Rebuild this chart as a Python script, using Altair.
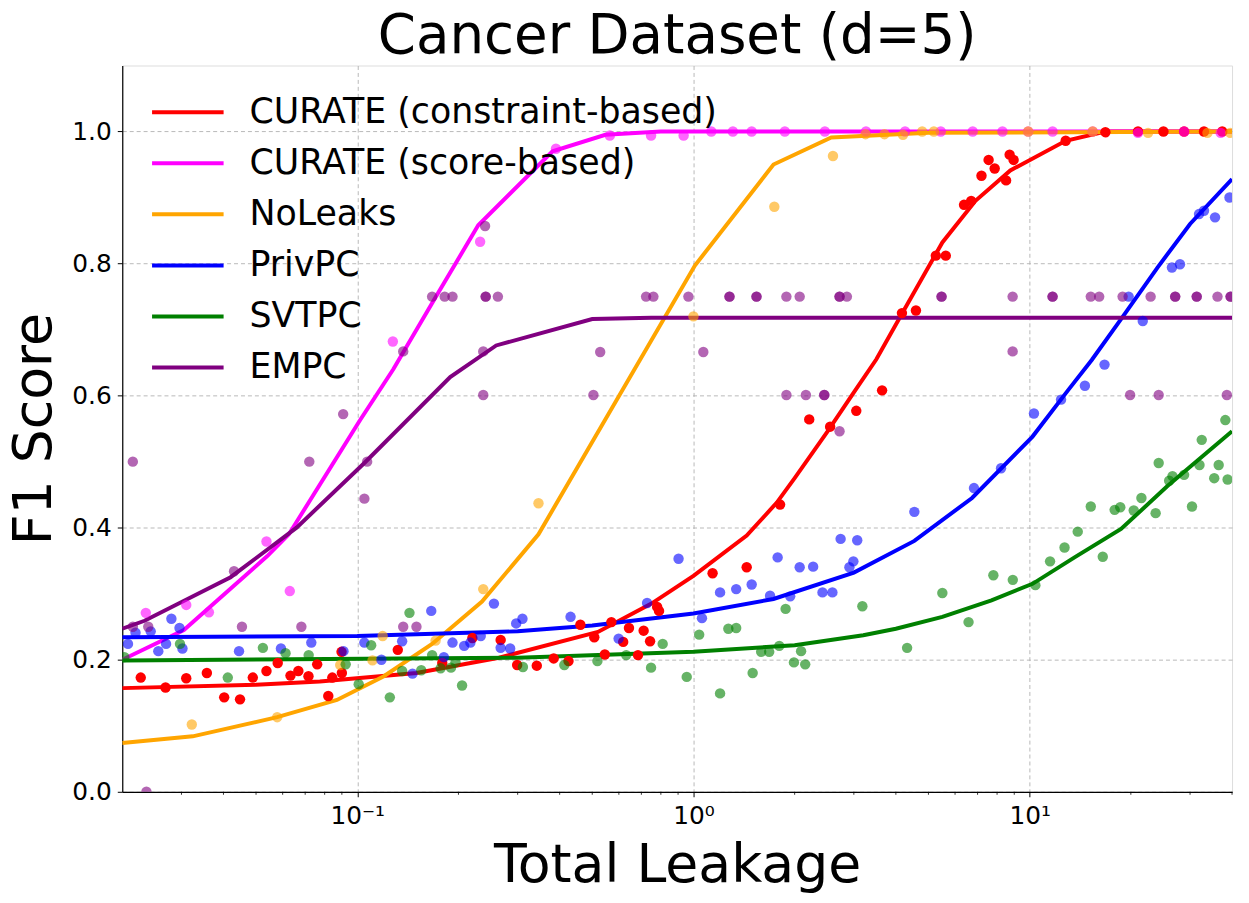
import altair as alt
import pandas as pd

methods = ["CURATE (constraint-based)", "CURATE (score-based)", "NoLeaks", "PrivPC", "SVTPC", "EMPC"]
colors = ["#ff0000", "#ff00ff", "#ffa500", "#0000ff", "#008000", "#800080"]
point_alpha = [1.0, 0.6, 0.6, 0.6, 0.6, 0.6]

# ---- fitted curves ----
red_line_x = [0.02, 0.05, 0.0774, 0.15, 0.264, 0.52, 0.75, 1.0, 1.44, 1.77, 2.0, 2.5, 3.0, 3.5, 4.17, 5.5, 6.9, 8.76, 12.8, 16.8, 40]
red_line_y = [0.157, 0.162, 0.167, 0.180, 0.203, 0.242, 0.285, 0.327, 0.388, 0.438, 0.475, 0.545, 0.605, 0.655, 0.724, 0.832, 0.895, 0.941, 0.986, 1.0, 1.0]
mag_line_x = [0.02, 0.0305, 0.054, 0.0626, 0.102, 0.128, 0.171, 0.229, 0.381, 0.547, 0.8, 40]
mag_line_y = [0.200, 0.245, 0.357, 0.390, 0.563, 0.640, 0.749, 0.858, 0.970, 0.995, 1.0, 1.0]
org_line_x = [0.02, 0.0324, 0.0578, 0.087, 0.12, 0.167, 0.235, 0.346, 1.01, 1.73, 2.57, 5.0, 40]
org_line_y = [0.074, 0.084, 0.113, 0.139, 0.175, 0.224, 0.288, 0.39, 0.797, 0.950, 0.991, 0.998, 1.0]
blu_line_x = [0.02, 0.1, 0.3, 0.5, 1.0, 1.73, 3.0, 4.54, 6.74, 10.2, 13, 15.3, 18.7, 24, 30, 40]
blu_line_y = [0.234, 0.236, 0.243, 0.252, 0.270, 0.292, 0.332, 0.380, 0.445, 0.538, 0.608, 0.654, 0.716, 0.794, 0.86, 0.928]
grn_line_x = [0.02, 0.3, 1.0, 2.0, 3.2, 4.0, 5.5, 7.7, 10.2, 13.6, 18.7, 25.7, 40]
grn_line_y = [0.199, 0.203, 0.212, 0.222, 0.237, 0.247, 0.265, 0.290, 0.315, 0.355, 0.398, 0.463, 0.546]
pur_line_x = [0.02, 0.0233, 0.042, 0.066, 0.105, 0.189, 0.259, 0.50, 0.75, 40]
pur_line_y = [0.247, 0.259, 0.325, 0.400, 0.498, 0.628, 0.676, 0.716, 0.718, 0.718]

# ---- scatter points ----
red_pt_x = [0.0227, 0.0269, 0.031, 0.0357, 0.0402, 0.0448, 0.0489, 0.0537, 0.058, 0.0633, 0.0668, 0.0716, 0.076, 0.082, 0.0843, 0.0898, 0.090, 0.132, 0.179, 0.220, 0.267, 0.299, 0.342, 0.384, 0.425, 0.461, 0.507, 0.545, 0.57, 0.618, 0.643, 0.684, 0.711, 0.743, 0.78, 0.79, 1.14, 1.44, 1.81, 2.21, 2.55, 3.05, 3.64, 4.17, 4.59, 5.26, 5.63, 6.38, 6.70, 7.19, 7.55, 7.87, 8.51, 8.72, 8.96, 12.8, 16.8, 21, 25, 28.8, 33, 37.4]
red_pt_y = [0.173, 0.158, 0.172, 0.180, 0.143, 0.140, 0.173, 0.183, 0.195, 0.176, 0.183, 0.175, 0.193, 0.145, 0.173, 0.212, 0.180, 0.215, 0.195, 0.233, 0.230, 0.192, 0.191, 0.202, 0.198, 0.253, 0.234, 0.208, 0.257, 0.227, 0.248, 0.207, 0.244, 0.228, 0.280, 0.274, 0.331, 0.340, 0.435, 0.564, 0.553, 0.577, 0.608, 0.725, 0.729, 0.812, 0.812, 0.889, 0.895, 0.933, 0.957, 0.944, 0.926, 0.965, 0.957, 0.986, 0.999, 1.0, 1.0, 1.0, 1.0, 1.0]
mag_pt_x = [0.0235, 0.031, 0.0362, 0.0537, 0.063, 0.1276, 0.232, 0.39, 0.564, 0.748, 0.935, 1.13, 1.31, 1.49, 1.87, 2.46, 3.26, 4.26, 5.44, 6.77, 8.3, 9.9, 11.7, 15.4, 21, 28.8, 37]
mag_pt_y = [0.271, 0.283, 0.272, 0.379, 0.304, 0.682, 0.833, 0.974, 0.994, 0.994, 0.994, 1.0, 1.0, 1.0, 1.0, 1.0, 1.0, 1.0, 1.0, 1.0, 1.0, 1.0, 1.0, 1.0, 0.998, 1.0, 0.998]
org_pt_x = [0.0322, 0.0578, 0.089, 0.111, 0.119, 0.171, 0.237, 0.346, 1.0, 1.74, 2.60, 3.25, 3.70, 4.2, 4.79, 5.19, 9.9, 15.4, 22.5, 33.8, 39.5]
org_pt_y = [0.102, 0.113, 0.192, 0.199, 0.236, 0.229, 0.307, 0.437, 0.72, 0.886, 0.963, 0.996, 0.996, 0.995, 1.0, 1.0, 1.0, 1.0, 0.998, 0.998, 0.998]
blu_pt_x = [0.0208, 0.0219, 0.0243, 0.0256, 0.027, 0.028, 0.0296, 0.0302, 0.0445, 0.0593, 0.073, 0.091, 0.105, 0.118, 0.136, 0.146, 0.166, 0.181, 0.192, 0.208, 0.217, 0.233, 0.255, 0.267, 0.285, 0.297, 0.31, 0.431, 0.599, 0.728, 0.903, 1.06, 1.20, 1.34, 1.49, 1.69, 1.78, 1.94, 2.07, 2.27, 2.42, 2.59, 2.74, 2.91, 2.99, 3.07, 4.54, 6.83, 8.22, 10.3, 12.4, 14.6, 16.7, 19.7, 21.7, 26.5, 28, 31.9, 33.0, 35.6, 39.3]
blu_pt_y = [0.224, 0.241, 0.243, 0.213, 0.224, 0.262, 0.248, 0.217, 0.213, 0.217, 0.226, 0.213, 0.226, 0.2, 0.228, 0.179, 0.274, 0.204, 0.226, 0.221, 0.226, 0.236, 0.285, 0.218, 0.217, 0.255, 0.262, 0.265, 0.232, 0.286, 0.353, 0.263, 0.302, 0.307, 0.314, 0.297, 0.355, 0.296, 0.340, 0.341, 0.302, 0.302, 0.383, 0.340, 0.349, 0.381, 0.424, 0.460, 0.490, 0.573, 0.594, 0.615, 0.647, 0.75, 0.713, 0.794, 0.799, 0.875, 0.88, 0.87, 0.9]
grn_pt_x = [0.0203, 0.0297, 0.0412, 0.0524, 0.0612, 0.0717, 0.0924, 0.101, 0.110, 0.125, 0.136, 0.143, 0.155, 0.167, 0.177, 0.19, 0.196, 0.205, 0.311, 0.413, 0.518, 0.631, 0.748, 0.81, 0.955, 1.04, 1.20, 1.27, 1.34, 1.50, 1.59, 1.68, 1.80, 1.88, 1.99, 2.09, 2.15, 3.18, 4.32, 5.5, 6.58, 7.8, 8.91, 10.4, 11.5, 12.7, 13.9, 15.2, 16.5, 17.9, 18.6, 20.4, 21.5, 23.7, 24.2, 26.0, 26.6, 28.8, 30.4, 32.0, 32.5, 35.4, 36.5, 38.2, 38.8]
grn_pt_y = [0.204, 0.224, 0.173, 0.218, 0.210, 0.207, 0.193, 0.163, 0.222, 0.143, 0.183, 0.271, 0.184, 0.207, 0.187, 0.188, 0.196, 0.161, 0.189, 0.192, 0.198, 0.207, 0.188, 0.224, 0.174, 0.238, 0.149, 0.247, 0.248, 0.180, 0.212, 0.212, 0.221, 0.277, 0.196, 0.213, 0.193, 0.281, 0.218, 0.301, 0.257, 0.328, 0.321, 0.313, 0.349, 0.370, 0.394, 0.432, 0.356, 0.427, 0.431, 0.426, 0.445, 0.422, 0.498, 0.471, 0.478, 0.480, 0.432, 0.495, 0.533, 0.475, 0.495, 0.563, 0.473]
pur_pt_x = [0.0236, 0.0215, 0.0239, 0.0454, 0.0682, 0.137, 0.15, 0.043, 0.0215, 0.072, 0.0908, 0.105, 0.107, 0.137, 0.167, 0.182, 0.192, 0.237, 0.237, 0.24, 0.241, 0.241, 0.262, 0.504, 0.528, 0.723, 0.76, 0.966, 1.07, 1.28, 1.28, 1.54, 1.54, 1.89, 1.89, 2.07, 2.16, 2.45, 2.45, 2.72, 2.72, 2.86, 2.72, 5.47, 5.47, 8.9, 8.9, 11.7, 11.7, 15.2, 16.1, 18.9, 19.9, 22.9, 24.2, 27.1, 27.1, 31.4, 31.4, 36.2, 38.6, 39.6, 39.6]
pur_pt_y = [0.0, 0.25, 0.25, 0.25, 0.25, 0.25, 0.25, 0.334, 0.5, 0.5, 0.572, 0.444, 0.5, 0.667, 0.75, 0.75, 0.75, 0.601, 0.667, 0.857, 0.75, 0.75, 0.75, 0.601, 0.666, 0.75, 0.75, 0.75, 0.666, 0.75, 0.75, 0.75, 0.75, 0.75, 0.601, 0.75, 0.601, 0.601, 0.601, 0.75, 0.75, 0.75, 0.546, 0.75, 0.75, 0.75, 0.667, 0.75, 0.75, 0.75, 0.75, 0.75, 0.601, 0.75, 0.601, 0.75, 0.75, 0.75, 0.75, 0.75, 0.601, 0.75, 0.75]

minor_ticks = [0.03, 0.04, 0.05, 0.06, 0.07, 0.08, 0.09, 0.2, 0.3, 0.4, 0.5, 0.6, 0.7, 0.8, 0.9,
               2, 3, 4, 5, 6, 7, 8, 9, 20, 30, 40]
major_x = [0.1, 1, 10]
major_y = [0.0, 0.2, 0.4, 0.6, 0.8, 1.0]

line_sets = [(red_line_x, red_line_y), (mag_line_x, mag_line_y), (org_line_x, org_line_y),
             (blu_line_x, blu_line_y), (grn_line_x, grn_line_y), (pur_line_x, pur_line_y)]
pt_sets = [(red_pt_x, red_pt_y), (mag_pt_x, mag_pt_y), (org_pt_x, org_pt_y),
           (blu_pt_x, blu_pt_y), (grn_pt_x, grn_pt_y), (pur_pt_x, pur_pt_y)]

line_rows = []
for m, (xs, ys) in zip(methods, line_sets):
    for k, (xv, yv) in enumerate(zip(xs, ys)):
        line_rows.append({"method": m, "x": xv, "y": yv, "k": k})
lines_df = pd.DataFrame(line_rows)

pt_rows = []
for m, a, (xs, ys) in zip(methods, point_alpha, pt_sets):
    for xv, yv in zip(xs, ys):
        pt_rows.append({"method": m, "x": xv, "y": yv, "op": a})
pts_df = pd.DataFrame(pt_rows)
minor_df = pd.DataFrame({"x": minor_ticks})

FONT = "DejaVu Sans"
W, H = 1117, 731

x_scale = alt.Scale(type="log", domain=[0.02, 40], nice=False)
y_scale = alt.Scale(domain=[0, 1.1], nice=False, zero=False)
c_scale = alt.Scale(domain=methods, range=colors)

x_axis = alt.Axis(
    values=major_x,
    labelExpr="datum.value < 0.5 ? '10\u207b\u00b9' : (datum.value < 5 ? '10\u2070' : '10\u00b9')",
    labelFontSize=25, labelFont=FONT, labelColor="black", labelPadding=7,
    tickSize=5, tickColor="black", tickWidth=1,
    domainColor="black", domainWidth=1.2,
    grid=True, gridColor="#b0b0b0", gridDash=[4, 3], gridWidth=0.9,
    title="Total Leakage", titleFontSize=54, titleFont=FONT, titleFontWeight="normal",
    titleColor="black", titlePadding=10,
)
y_axis = alt.Axis(
    values=major_y, format=".1f",
    labelFontSize=25, labelFont=FONT, labelColor="black", labelPadding=6,
    tickSize=5, tickColor="black", tickWidth=1,
    domainColor="black", domainWidth=1.2,
    grid=True, gridColor="#b0b0b0", gridDash=[4, 3], gridWidth=0.9,
    title="F1 Score", titleFontSize=54, titleFont=FONT, titleFontWeight="normal",
    titleColor="black", titlePadding=10,
)

minor = alt.Chart(minor_df).mark_rule(color="black", strokeWidth=0.8).encode(
    x=alt.X("x:Q", scale=x_scale, axis=x_axis),
    y=alt.value(H),
    y2=alt.value(H + 3),
)

lines = alt.Chart(lines_df).mark_line(strokeWidth=4, clip=True).encode(
    x=alt.X("x:Q", scale=x_scale, axis=x_axis),
    y=alt.Y("y:Q", scale=y_scale, axis=y_axis),
    color=alt.Color("method:N", scale=c_scale, sort=methods, legend=alt.Legend(
        orient="none", legendX=28, legendY=27, title=None,
        symbolType="stroke", symbolStrokeWidth=4, symbolSize=5184,
        labelFontSize=35, labelFont=FONT, labelColor="black", labelOffset=24,
        clipHeight=40, rowPadding=11.4, padding=0, labelLimit=800,
    )),
    detail="method:N",
    order="k:Q",
)

points = alt.Chart(pts_df).mark_circle(size=110, clip=True).encode(
    x=alt.X("x:Q", scale=x_scale, axis=x_axis),
    y=alt.Y("y:Q", scale=y_scale, axis=y_axis),
    color=alt.Color("method:N", scale=c_scale, legend=None),
    opacity=alt.Opacity("op:Q", scale=None, legend=None),
)

chart = alt.layer(minor, lines, points).resolve_legend(color="independent").properties(
    width=W, height=H,
    autosize="none",
    padding={"left": 115, "top": 55, "right": 9, "bottom": 101},
    title=alt.TitleParams("Cancer Dataset (d=5)", fontSize=55, font=FONT, fontWeight="normal",
                          color="black", anchor="middle", baseline="alphabetic", offset=-42),
).configure_view(stroke="black", strokeWidth=1.2).configure(font=FONT, background="white")

chart.save("out.html", embed_options={"renderer": "svg", "actions": False})
